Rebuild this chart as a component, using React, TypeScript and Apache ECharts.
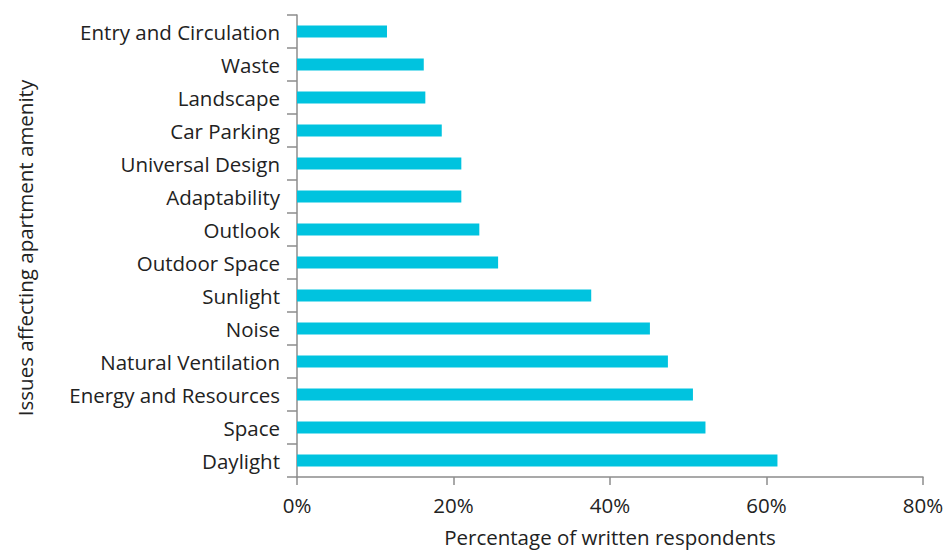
import React, { useEffect, useRef } from "react";
import * as echarts from "echarts";

const categories = [
  "Daylight",
  "Space",
  "Energy and Resources",
  "Natural Ventilation",
  "Noise",
  "Sunlight",
  "Outdoor Space",
  "Outlook",
  "Adaptability",
  "Universal Design",
  "Car Parking",
  "Landscape",
  "Waste",
  "Entry and Circulation",
];
const values = [61.4, 52.2, 50.6, 47.4, 45.1, 37.6, 25.7, 23.3, 21.0, 21.0, 18.5, 16.4, 16.2, 11.5];
const xTicks = [0, 20, 40, 60, 80];
const xTitle = "Percentage of written respondents";
const yTitle = "Issues affecting apartment amenity";

const FONT = "Open Sans";
const FS = 20.5;
const TXT = "#222222";

export default function App() {
  const ref = useRef<HTMLDivElement>(null);
  useEffect(() => {
    if (!ref.current) return;
    const chart = echarts.init(ref.current, undefined, { renderer: "svg" });
    chart.setOption({
      animation: false,
      backgroundColor: "#ffffff",
      textStyle: { fontFamily: FONT },
      grid: { left: 297, right: 26, top: 15, bottom: 69, containLabel: false },
      xAxis: {
        type: "value",
        min: xTicks[0],
        max: xTicks[xTicks.length - 1],
        interval: 20,
        name: xTitle,
        nameLocation: "middle",
        nameGap: 49,
        nameTextStyle: { fontFamily: FONT, fontSize: FS, color: TXT },
        axisLine: { show: true, lineStyle: { color: "#8c8c8c", width: 1.5 } },
        axisTick: { show: true, length: 8, lineStyle: { color: "#8c8c8c", width: 1.5 } },
        axisLabel: {
          formatter: (v: number) => v + "%",
          fontFamily: FONT,
          fontSize: FS,
          color: TXT,
          margin: 17,
        },
        splitLine: { show: false },
      },
      yAxis: {
        type: "category",
        data: categories,
        axisLine: { show: true, lineStyle: { color: "#8c8c8c", width: 1.5 } },
        axisTick: { show: true, length: 10, lineStyle: { color: "#8c8c8c", width: 1.5 } },
        axisLabel: { fontFamily: FONT, fontSize: FS, color: TXT, margin: 17 },
        splitLine: { show: false },
      },
      graphic: [
        {
          type: "text",
          x: 25,
          y: 248,
          rotation: Math.PI / 2,
          style: {
            text: yTitle,
            fontFamily: FONT,
            fontSize: FS,
            fill: TXT,
            align: "center",
            verticalAlign: "middle",
          },
        },
      ],
      series: [
        {
          type: "bar",
          data: values,
          barWidth: 12,
          itemStyle: { color: "#00c3df" },
        },
      ],
    });
    return () => chart.dispose();
  }, []);
  return (
    <div
      ref={ref}
      style={{ width: 949, height: 552, position: "absolute", left: 0, top: 0 }}
    />
  );
}
